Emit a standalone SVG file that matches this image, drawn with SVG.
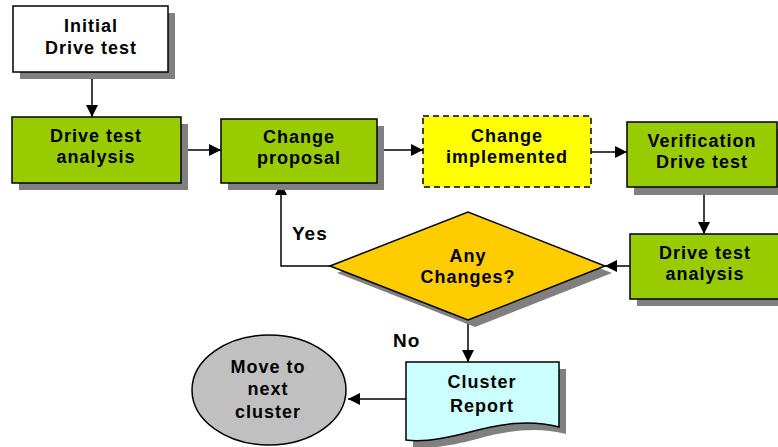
<svg xmlns="http://www.w3.org/2000/svg" width="778" height="447" viewBox="0 0 778 447">
<defs>
<marker id="ah" markerWidth="12" markerHeight="12" refX="12" refY="6" orient="auto" markerUnits="userSpaceOnUse">
<path d="M0,0 L12,6 L0,12 Z" fill="#000"/>
</marker>
</defs>
<style>
.t{font-family:"Liberation Sans",Arial,sans-serif;font-weight:bold;font-size:18px;letter-spacing:1px;fill:#000;text-anchor:middle}
.l{font-family:"Liberation Sans",Arial,sans-serif;font-weight:bold;font-size:19px;letter-spacing:1px;fill:#000}
.sh{fill:#808080}
.box{stroke:#000;stroke-width:1.5}
.g{fill:#99CC00}
.c{fill:none;stroke:#000;stroke-width:1.5;marker-end:url(#ah)}
</style>
<rect width="778" height="447" fill="#fff"/>
<g id="connectors">
<path class="c" d="M92,72 V117"/>
<path class="c" d="M181,150 H221"/>
<path class="c" d="M377,150 H423"/>
<path class="c" d="M591,152 H627"/>
<path class="c" d="M704,195 V234"/>
<path class="c" d="M630,266 H605"/>
<path class="c" d="M330,266 H281 V183"/>
<path class="c" d="M468,320 V362"/>
<path class="c" d="M406,399 H348"/>
<text class="l" x="292" y="240">Yes</text>
<text class="l" x="393" y="347">No</text>
</g>
<g id="initial">
<rect class="sh" x="20" y="13" width="155" height="66"/>
<rect class="box" x="13" y="6" width="155" height="66" fill="#fff"/>
<text class="t" x="91" y="32">Initial</text>
<text class="t" x="91" y="54">Drive test</text>
</g>
<g id="analysis1">
<rect class="sh" x="19" y="124" width="169" height="66"/>
<rect class="box g" x="12" y="117" width="169" height="66"/>
<text class="t" x="96" y="142">Drive test</text>
<text class="t" x="96" y="163">analysis</text>
</g>
<g id="proposal">
<rect class="sh" x="228" y="126" width="156" height="64"/>
<rect class="box g" x="221" y="119" width="156" height="64"/>
<text class="t" x="299" y="143">Change</text>
<text class="t" x="299" y="164">proposal</text>
</g>
<g id="implemented">
<rect x="423" y="116" width="168" height="71" fill="#FFFF00" stroke="#000" stroke-width="1.5" stroke-dasharray="6,4"/>
<text class="t" x="507" y="142">Change</text>
<text class="t" x="507" y="163">implemented</text>
</g>
<g id="verification">
<rect class="sh" x="634" y="129" width="150" height="66"/>
<rect class="box g" x="627" y="122" width="150" height="65"/>
<text class="t" x="702" y="147">Verification</text>
<text class="t" x="702" y="168">Drive test</text>
</g>
<g id="analysis2">
<rect class="sh" x="637" y="241" width="150" height="65"/>
<rect class="box g" x="630" y="234" width="150" height="65"/>
<text class="t" x="705" y="259">Drive test</text>
<text class="t" x="705" y="280">analysis</text>
</g>
<g id="decision">
<path class="sh" d="M337,273 L475,219 L612,273 L475,327 Z"/>
<path class="box" d="M330,266 L468,212 L605,266 L468,320 Z" fill="#FFCC00"/>
<text class="t" x="468" y="262">Any</text>
<text class="t" x="468" y="283">Changes?</text>
</g>
<g id="report">
<path class="sh" d="M413,369 H566 V434 C536,426 506,431 477,439 C447,447 427,449 413,447 Z"/>
<path class="box" d="M406,362 H559 V427 C529,419 499,424 470,432 C440,440 420,442 406,440 Z" fill="#CCFFFF"/>
<text class="t" x="482" y="388">Cluster</text>
<text class="t" x="482" y="412">Report</text>
</g>
<g id="next">
<ellipse class="box" cx="269" cy="390" rx="77" ry="55" fill="#C0C0C0"/>
<text class="t" x="268" y="373">Move to</text>
<text class="t" x="268" y="395">next</text>
<text class="t" x="268" y="418">cluster</text>
</g>
</svg>
